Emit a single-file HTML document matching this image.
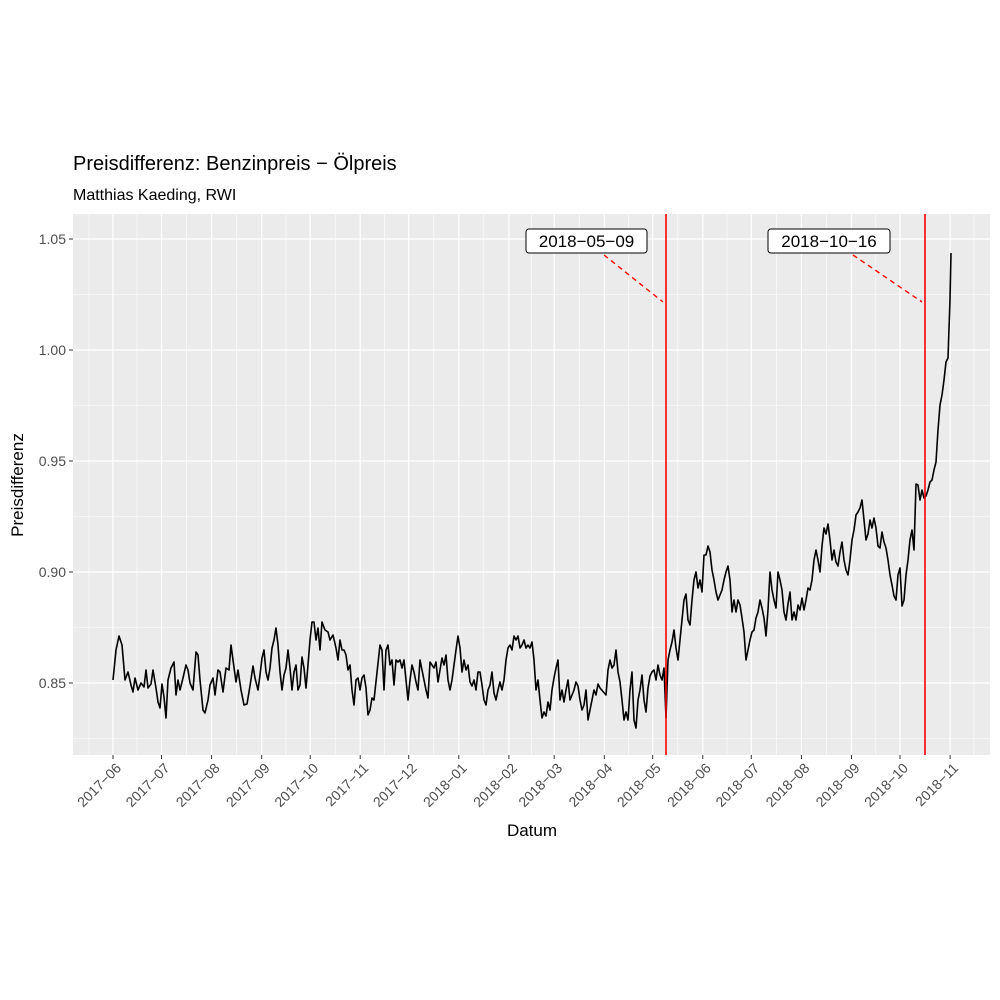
<!DOCTYPE html>
<html><head><meta charset="utf-8"><style>body{margin:0;background:#fff}svg{display:block}text{font-family:"Liberation Sans",Arial,sans-serif}</style></head>
<body>
<svg width="1000" height="1000" viewBox="0 0 1000 1000" xmlns="http://www.w3.org/2000/svg">
<rect width="1000" height="1000" fill="#fff"/>
<rect x="73" y="214" width="917" height="541" fill="#EBEBEB"/>
<g stroke="#fff" stroke-width="0.6">
<line x1="73" x2="990" y1="738.5" y2="738.5"/><line x1="73" x2="990" y1="627.5" y2="627.5"/><line x1="73" x2="990" y1="516.5" y2="516.5"/><line x1="73" x2="990" y1="405.5" y2="405.5"/><line x1="73" x2="990" y1="294.5" y2="294.5"/>
<line y1="214" y2="755" x1="89" x2="89"/><line y1="214" y2="755" x1="137" x2="137"/><line y1="214" y2="755" x1="186.5" x2="186.5"/><line y1="214" y2="755" x1="236.6" x2="236.6"/><line y1="214" y2="755" x1="286" x2="286"/><line y1="214" y2="755" x1="335.2" x2="335.2"/><line y1="214" y2="755" x1="384.5" x2="384.5"/><line y1="214" y2="755" x1="433.8" x2="433.8"/><line y1="214" y2="755" x1="483.8" x2="483.8"/><line y1="214" y2="755" x1="531.5" x2="531.5"/><line y1="214" y2="755" x1="579.2" x2="579.2"/><line y1="214" y2="755" x1="628.5" x2="628.5"/><line y1="214" y2="755" x1="677.8" x2="677.8"/><line y1="214" y2="755" x1="727" x2="727"/><line y1="214" y2="755" x1="776.3" x2="776.3"/><line y1="214" y2="755" x1="826.5" x2="826.5"/><line y1="214" y2="755" x1="875.8" x2="875.8"/><line y1="214" y2="755" x1="925" x2="925"/><line y1="214" y2="755" x1="974" x2="974"/>
</g>
<g stroke="#fff" stroke-width="1.2">
<line x1="73" x2="990" y1="239" y2="239"/><line x1="73" x2="990" y1="350" y2="350"/><line x1="73" x2="990" y1="461" y2="461"/><line x1="73" x2="990" y1="572" y2="572"/><line x1="73" x2="990" y1="683" y2="683"/>
<line y1="214" y2="755" x1="113" x2="113"/><line y1="214" y2="755" x1="161.5" x2="161.5"/><line y1="214" y2="755" x1="211.6" x2="211.6"/><line y1="214" y2="755" x1="261.7" x2="261.7"/><line y1="214" y2="755" x1="310.2" x2="310.2"/><line y1="214" y2="755" x1="360.2" x2="360.2"/><line y1="214" y2="755" x1="408.7" x2="408.7"/><line y1="214" y2="755" x1="458.8" x2="458.8"/><line y1="214" y2="755" x1="508.9" x2="508.9"/><line y1="214" y2="755" x1="554.2" x2="554.2"/><line y1="214" y2="755" x1="604.3" x2="604.3"/><line y1="214" y2="755" x1="652.7" x2="652.7"/><line y1="214" y2="755" x1="702.8" x2="702.8"/><line y1="214" y2="755" x1="751.3" x2="751.3"/><line y1="214" y2="755" x1="801.4" x2="801.4"/><line y1="214" y2="755" x1="851.5" x2="851.5"/><line y1="214" y2="755" x1="900" x2="900"/><line y1="214" y2="755" x1="950.1" x2="950.1"/>
</g>
<polyline fill="none" stroke="#000" stroke-width="1.6" stroke-linejoin="round" points="113,680 116,650 119,636 122,645 125,680 128,672 131,685 133,692 135,678 138,690 141,683 144,687 146,670 148,688 151,684 153,670 156,688 158,702 160,708 162,684 164,697 166,718 168,680 171,668 174,662 176,695 178,680 180,690 183,678 186,665 188,670 190,683 193,690 196,652 198,655 200,680 203,710 205,713 208,700 210,685 213,678 215,695 218,670 220,672 223,692 226,668 229,670 231,645 233,660 236,682 238,670 241,690 244,705 247,704 250,686 253,666 255,678 258,690 260,675 262,658 264,650 266,672 268,680 270,668 272,648 274,640 276,628 278,645 280,672 282,690 284,675 286,668 288,650 290,668 292,690 294,672 296,665 298,690 300,685 302,657 304,668 306,688 308,665 310,640 312,622 314,622 316,640 318,628 320,650 322,622 325,630 328,632 330,640 333,635 336,648 338,660 340,640 342,650 344,650 346,655 348,670 350,665 352,690 354,705 356,680 358,678 360,690 362,678 364,675 366,688 368,715 370,710 372,698 374,700 380,645 382,650 384,690 386,650 388,645 390,665 392,660 394,685 396,660 398,662 400,660 402,668 404,660 406,680 408,700 410,680 412,665 414,672 416,682 418,690 420,660 422,670 424,680 426,690 428,698 430,662 432,665 434,668 436,662 438,682 440,670 442,658 444,665 446,655 448,680 450,690 452,680 454,665 456,650 458,636 460,648 462,672 464,660 466,670 468,665 470,682 472,686 474,680 476,690 478,672 480,672 482,685 484,700 486,705 488,690 490,685 492,672 494,693 496,700 498,690 500,682 502,690 504,680 506,660 508,648 510,645 512,650 514,636 516,640 518,636 520,648 522,645 524,640 526,648 528,645 530,648 532,642 534,660 536,690 538,680 540,700 542,718 544,712 546,716 548,702 550,710 552,690 554,678 556,668 558,660 560,700 562,690 564,702 566,690 568,680 570,700 572,695 574,690 576,682 578,686 580,700 582,710 584,705 586,690 588,720 590,710 592,700 594,690 596,695 598,684 600,688 606,695 608,670 610,660 612,668 614,665 616,650 618,672 620,682 622,700 624,720 626,712 628,720 630,690 632,672 634,720 636,728 638,700 640,690 642,675 644,700 646,712 648,688 650,676 652,672 654,670 656,680 658,665 660,675 662,680 664,668 666,718 668,660 670,650 672,642 674,630 676,648 678,660 680,640 682,620 684,600 686,594 688,620 690,625 692,600 694,580 696,572 698,588 700,580 702,592 704,555 706,555 708,546 710,552 712,570 714,580 716,592 718,600 720,595 722,590 724,580 726,572 728,566 730,580 732,612 734,600 736,612 738,600 740,605 742,618 744,632 746,660 748,650 750,640 752,632 754,630 756,618 758,612 760,600 762,608 764,618 766,636 768,610 770,572 772,590 774,600 776,608 778,572 780,580 782,590 784,612 786,620 788,604 790,592 792,620 794,612 796,620 798,605 800,610 802,598 804,610 806,600 808,588 810,590 812,580 814,560 816,550 818,560 820,572 822,546 824,528 826,534 828,524 830,540 832,560 834,550 836,562 838,566 840,552 842,542 844,560 846,570 848,575 850,560 852,540 854,530 856,515 858,512 860,508 862,500 864,520 866,540 868,534 870,520 872,528 874,518 876,528 878,546 880,548 882,532 884,542 886,548 888,560 890,575 892,585 894,596 896,600 898,575 900,568 902,606 904,600 906,575 908,560 910,540 912,530 914,550 916,484 918,485 920,500 922,490 924,498 926,496 928,490 930,482 932,480 934,470 936,462 938,430 940,405 942,395 944,380 946,362 948,358 950,300 951,253"/>
<line x1="666" x2="666" y1="214" y2="755" stroke="#FF0000" stroke-width="1.6"/>
<line x1="925" x2="925" y1="214" y2="755" stroke="#FF0000" stroke-width="1.6"/>
<line x1="604" y1="255" x2="663" y2="302" stroke="#FF0000" stroke-width="1.4" stroke-dasharray="5,4"/>
<line x1="853" y1="255" x2="922" y2="302" stroke="#FF0000" stroke-width="1.4" stroke-dasharray="5,4"/>
<rect x="526" y="229" width="121" height="24" rx="3" fill="#fff" stroke="#000" stroke-width="1"/>
<text x="586.5" y="247" font-size="17" text-anchor="middle">2018−05−09</text>
<rect x="768" y="229" width="122" height="24" rx="3" fill="#fff" stroke="#000" stroke-width="1"/>
<text x="829" y="247" font-size="17" text-anchor="middle">2018−10−16</text>
<g stroke="#333" stroke-width="1">
<line x1="69" x2="73" y1="239" y2="239"/><line x1="69" x2="73" y1="350" y2="350"/><line x1="69" x2="73" y1="461" y2="461"/><line x1="69" x2="73" y1="572" y2="572"/><line x1="69" x2="73" y1="683" y2="683"/>
</g>
<g font-size="14" fill="#4D4D4D" text-anchor="end">
<text x="66" y="244">1.05</text><text x="66" y="355">1.00</text><text x="66" y="466">0.95</text><text x="66" y="577">0.90</text><text x="66" y="688">0.85</text>
</g>
<g stroke="#333" stroke-width="1">
<line y1="755" y2="759" x1="113" x2="113"/><line y1="755" y2="759" x1="161.5" x2="161.5"/><line y1="755" y2="759" x1="211.6" x2="211.6"/><line y1="755" y2="759" x1="261.7" x2="261.7"/><line y1="755" y2="759" x1="310.2" x2="310.2"/><line y1="755" y2="759" x1="360.2" x2="360.2"/><line y1="755" y2="759" x1="408.7" x2="408.7"/><line y1="755" y2="759" x1="458.8" x2="458.8"/><line y1="755" y2="759" x1="508.9" x2="508.9"/><line y1="755" y2="759" x1="554.2" x2="554.2"/><line y1="755" y2="759" x1="604.3" x2="604.3"/><line y1="755" y2="759" x1="652.7" x2="652.7"/><line y1="755" y2="759" x1="702.8" x2="702.8"/><line y1="755" y2="759" x1="751.3" x2="751.3"/><line y1="755" y2="759" x1="801.4" x2="801.4"/><line y1="755" y2="759" x1="851.5" x2="851.5"/><line y1="755" y2="759" x1="900" x2="900"/><line y1="755" y2="759" x1="950.1" x2="950.1"/>
</g>
<g font-size="14" fill="#4D4D4D" text-anchor="end">
<text transform="translate(122,769) rotate(-45)">2017−06</text>
<text transform="translate(170.5,769) rotate(-45)">2017−07</text>
<text transform="translate(220.6,769) rotate(-45)">2017−08</text>
<text transform="translate(270.7,769) rotate(-45)">2017−09</text>
<text transform="translate(319.2,769) rotate(-45)">2017−10</text>
<text transform="translate(369.2,769) rotate(-45)">2017−11</text>
<text transform="translate(417.7,769) rotate(-45)">2017−12</text>
<text transform="translate(467.8,769) rotate(-45)">2018−01</text>
<text transform="translate(517.9,769) rotate(-45)">2018−02</text>
<text transform="translate(563.2,769) rotate(-45)">2018−03</text>
<text transform="translate(613.3,769) rotate(-45)">2018−04</text>
<text transform="translate(661.7,769) rotate(-45)">2018−05</text>
<text transform="translate(711.8,769) rotate(-45)">2018−06</text>
<text transform="translate(760.3,769) rotate(-45)">2018−07</text>
<text transform="translate(810.4,769) rotate(-45)">2018−08</text>
<text transform="translate(860.5,769) rotate(-45)">2018−09</text>
<text transform="translate(909,769) rotate(-45)">2018−10</text>
<text transform="translate(959.1,769) rotate(-45)">2018−11</text>
</g>
<text x="532" y="836" font-size="17" text-anchor="middle">Datum</text>
<text transform="translate(23,485) rotate(-90)" font-size="17" text-anchor="middle">Preisdifferenz</text>
<text x="73" y="170" font-size="20">Preisdifferenz: Benzinpreis − Ölpreis</text>
<text x="73" y="200" font-size="16">Matthias Kaeding, RWI</text>
</svg>
</body></html>
